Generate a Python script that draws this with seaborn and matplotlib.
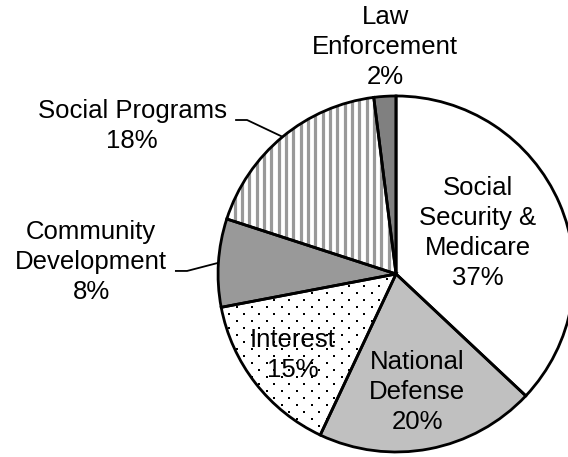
import numpy as np
import matplotlib
matplotlib.use("Agg")
import matplotlib.pyplot as plt
import seaborn as sns

# Budget shares, listed clockwise from twelve o'clock
categories = ["Social\nSecurity &\nMedicare", "National\nDefense", "Interest",
              "Community\nDevelopment", "Social Programs", "Law\nEnforcement"]
shares = [37, 20, 15, 8, 18, 2]
fills = ["#ffffff", "#c0c0c0", "#ffffff", "#999999", "#ffffff", "#808080"]

# Where each label sits (data units, pie radius = 1)
label_xy = [(0.46, 0.23), (0.118, -0.663), (-0.58, -0.455),
            (-1.713, 0.067), (-1.483, 0.831), (-0.06, 1.275)]
# Leader lines for the outside labels: (elbow, end)
leaders = {3: ((-1.174, 0.017), (-1.242, 0.017)),
           4: ((-0.837, 0.865), (-0.904, 0.865))}

sns.set_theme(style="white")
plt.rcParams["font.family"] = ["Liberation Sans", "DejaVu Sans"]

fig = plt.figure(figsize=(5.68, 4.57), dpi=100)
ax = fig.add_axes([0, 0, 1, 1])

# Filled wedges
wedges, _ = ax.pie(shares, colors=fills, startangle=90, counterclock=False,
                   radius=1, wedgeprops=dict(linewidth=0, zorder=1))

# Vertical stripes for Social Programs
step = 7.33 / 178
xs = -0.7826 + step * np.arange(-30, 50)
stripes = ax.vlines(xs, -1.1, 1.1, colors="#999999", linewidth=2.3, zorder=2)
stripes.set_clip_path(wedges[4])

# Dot texture for Interest
dx, dy = 15 / 178, 7 / 178
pts = []
for j in range(-40, 40):
    for i in range(-30, 30):
        pts.append((-0.348 + i * dx + (j % 2) * dx / 2, -0.067 + j * dy))
pts = np.array(pts)
dots = ax.scatter(pts[:, 0], pts[:, 1], s=2.6, marker="s", c="black",
                  linewidths=0, zorder=2)
dots.set_clip_path(wedges[2])

# Outlines on top
ax.pie(shares, startangle=90, counterclock=False, radius=1,
       wedgeprops=dict(fill=False, edgecolor="black", linewidth=2.0, zorder=3))

# Labels
for k, (name, share) in enumerate(zip(categories, shares)):
    x, y = label_xy[k]
    ax.text(x, y, f"{name}\n{share}%", ha="center", va="center",
            fontsize=18.5, color="black", linespacing=1.3, zorder=4)

for k, (elbow, end) in leaders.items():
    w = wedges[k]
    th = np.deg2rad((w.theta1 + w.theta2) / 2)
    ax.plot([np.cos(th), elbow[0], end[0]], [np.sin(th), elbow[1], end[1]],
            color="black", linewidth=1.3, zorder=4, solid_capstyle="butt")

ax.set_xlim(-2.225, 0.966)
ax.set_ylim(-1.028, 1.539)
ax.set_aspect("equal")
ax.axis("off")

fig.savefig("out.png", dpi=100, facecolor="white")
